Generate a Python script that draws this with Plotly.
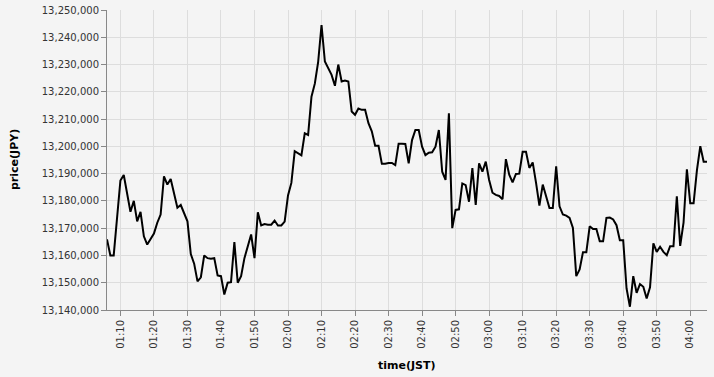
import pandas as pd
import plotly.graph_objects as go

start_time = "2024-01-01 01:06"
n_points = 180

prices = [
    13165900, 13160000, 13160000, 13174000, 13187500, 13189500, 13182000, 13176000, 13180000, 13172500,
    13176000, 13167000, 13164000, 13166000, 13168000, 13172000, 13175000, 13189000, 13186000, 13188000,
    13183000, 13177500, 13178500, 13175500, 13172500, 13160500, 13157000, 13150500, 13152000, 13160000,
    13159000, 13158800, 13159000, 13152700, 13152400, 13145700, 13150000, 13150200, 13164900, 13150000,
    13152400, 13159000, 13163400, 13167700, 13159000, 13175800, 13171000, 13171500, 13171300, 13171300,
    13172800, 13171000, 13171000, 13172400, 13182000, 13186600, 13198200, 13197300, 13196700, 13204800,
    13204200, 13218200, 13223000, 13231000, 13244500, 13231100, 13228700, 13226200, 13222200, 13230000,
    13223800, 13224100, 13223800, 13212800, 13211600, 13213900, 13213400, 13213400, 13208500, 13205500,
    13200200, 13200200, 13193600, 13193600, 13193900, 13193900, 13193100, 13201000, 13201000, 13200900,
    13193800, 13202300, 13206000, 13206000, 13199900, 13196800, 13197700, 13197800, 13199900, 13206000,
    13190700, 13187700, 13212100, 13170000, 13176700, 13176900, 13186400, 13185800, 13179700, 13192000,
    13178500, 13193800, 13190700, 13194400, 13187700, 13183000, 13182200, 13181800, 13180600, 13195300,
    13189600, 13186800, 13189900, 13190000, 13198000, 13198000, 13192100, 13194100, 13186600, 13178300,
    13186000, 13182000, 13177400, 13177400, 13192700, 13178000, 13175000, 13174600, 13173800, 13170100,
    13152400, 13154900, 13161200, 13161200, 13170700, 13169700, 13169700, 13165200, 13165200, 13173800,
    13173900, 13173200, 13171100, 13165600, 13165600, 13147900, 13141200, 13152400, 13146300, 13149500,
    13148500, 13144200, 13148300, 13164400, 13161300, 13163200, 13161300, 13160100, 13163400, 13163400,
    13181700, 13163500, 13172000, 13191600, 13179100, 13179100, 13191300, 13200100, 13194400, 13194400,
]

times = pd.date_range(start_time, periods=n_points, freq="1min")

y_range = [13140000, 13250000]
y_dtick = 10000
x_tick0 = "2024-01-01 01:10"
x_dtick_ms = 10 * 60 * 1000

bg = "#f4f4f4"
grid = "#dddddd"
axis_col = "#888888"
font_fam = "DejaVu Sans"

fig = go.Figure()
fig.add_trace(go.Scatter(
    x=times, y=prices, mode="lines",
    line=dict(color="black", width=2),
    hoverinfo="x+y",
))

fig.update_layout(
    width=714, height=377,
    margin=dict(l=107, r=7, t=10, b=67, autoexpand=False),
    paper_bgcolor=bg, plot_bgcolor=bg,
    showlegend=False,
    font=dict(family=font_fam, size=10, color="#333"),
)

fig.update_xaxes(
    type="date",
    range=[times[0], times[-1]],
    tick0=x_tick0, dtick=x_dtick_ms, tickformat="%H:%M",
    tickangle=-90,
    ticks="outside", ticklen=5, tickcolor=axis_col,
    showline=True, linecolor=axis_col, linewidth=1,
    showgrid=True, gridcolor=grid, gridwidth=1,
    zeroline=False, automargin=False,
    tickfont=dict(family=font_fam, size=10, color="#333"),
)
fig.update_yaxes(
    range=y_range, dtick=y_dtick, tickformat=",d",
    ticks="outside", ticklen=5, tickcolor=axis_col,
    showline=True, linecolor=axis_col, linewidth=1,
    showgrid=True, gridcolor=grid, gridwidth=1,
    zeroline=False, automargin=False,
    tickfont=dict(family=font_fam, size=10, color="#333"),
)

fig.add_annotation(
    text="<b>time(JST)</b>", xref="paper", yref="paper",
    x=0.5, y=0, yshift=-55, xanchor="center", yanchor="middle",
    showarrow=False, font=dict(family=font_fam, size=11, color="#000"),
)
fig.add_annotation(
    text="<b>price(JPY)</b>", xref="paper", yref="paper",
    x=0, xshift=-93, y=0.5, xanchor="center", yanchor="middle",
    textangle=-90, showarrow=False, font=dict(family=font_fam, size=11, color="#000"),
)

fig.write_html("out.html")
